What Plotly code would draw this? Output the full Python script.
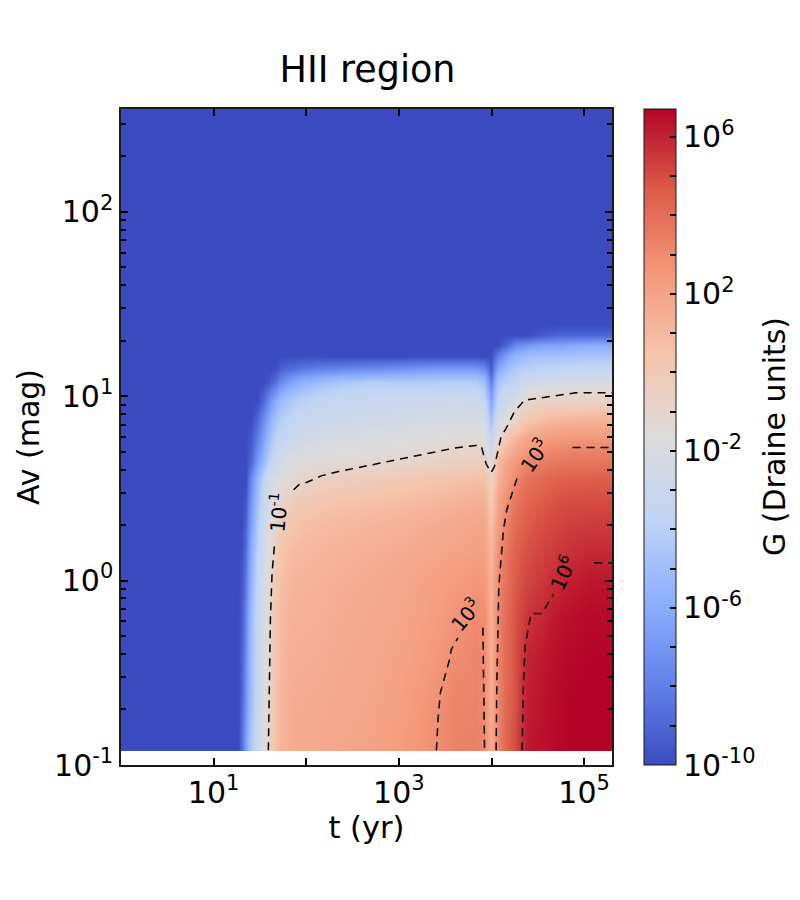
import numpy as np
import plotly.graph_objects as go

# log10 of the cell edges
log_t_edges = [0, 1.247, 1.290, 1.333, 1.376, 1.441, 1.505, 1.570, 1.634, 1.720, 1.935, 2.366, 3.011,
               3.441, 3.763, 3.892, 3.957, 4.032, 4.118, 4.215, 4.323, 4.462, 4.624, 4.839, 5.301]
log_av_edges = [-0.925, -0.751, -0.535, -0.319, -0.103, 0.086, 0.249, 0.384, 0.492, 0.600, 0.708, 0.816,
                0.924, 1.032, 1.114, 1.184, 1.249, 1.303, 1.357, 1.411, 2.557]

# log10 G per cell, lowest Av first
log_g = [
    [-10, -10, -8.5, -6.5, -4.5, -3.0, -2.0, -0.8, 0.7, 1.5, 1.7, 2.0, 2.6, 3.3, 3.4, 3.0, 1.6, 3.2, 4.4, 5.1, 6.2, 6.4, 6.6, 6.8],
    [-10, -10, -8.8, -7.0, -5.0, -3.2, -2.1, -0.9, 0.6, 1.5, 1.6, 1.9, 2.5, 3.2, 3.3, 3.0, 1.5, 3.2, 4.3, 5.0, 6.1, 6.3, 6.6, 6.8],
    [-10, -10, -9.0, -7.2, -5.0, -3.3, -2.2, -1.0, 0.5, 1.4, 1.5, 1.8, 2.3, 2.95, 3.2, 3.0, 1.4, 3.3, 4.2, 5.0, 6.0, 6.2, 6.5, 6.7],
    [-10, -10, -9.2, -7.5, -5.2, -3.4, -2.3, -1.1, 0.4, 1.3, 1.4, 1.7, 2.1, 2.7, 3.0, 2.9, 1.3, 3.2, 4.2, 4.9, 5.6, 5.9, 6.3, 6.6],
    [-10, -10, -9.5, -8.0, -5.6, -3.6, -2.4, -1.2, 0.2, 1.1, 1.3, 1.6, 2.0, 2.4, 2.6, 2.5, 1.2, 3.1, 4.0, 4.7, 5.2, 5.5, 5.9, 6.3],
    [-10, -10, -9.8, -8.5, -6.0, -4.0, -2.7, -1.6, -0.3, 0.8, 1.1, 1.4, 1.7, 2.0, 2.2, 2.1, 0.9, 2.8, 3.7, 4.5, 4.9, 5.2, 5.5, 5.8],
    [-10, -10, -10, -9.0, -6.5, -4.5, -3.0, -2.0, -1.0, 0.3, 0.8, 1.1, 1.4, 1.7, 1.9, 1.8, 0.5, 2.3, 3.3, 4.1, 4.6, 4.9, 5.2, 5.4],
    [-10, -10, -10, -9.5, -7.0, -5.0, -3.3, -2.3, -1.5, -0.5, 0.3, 0.6, 0.9, 1.2, 1.4, 1.3, -0.1, 1.9, 2.9, 3.7, 4.3, 4.6, 4.9, 5.0],
    [-10, -10, -10, -10, -7.5, -5.5, -3.7, -2.6, -1.9, -1.2, -0.6, -0.1, 0.3, 0.6, 0.8, 0.7, -0.8, 1.2, 2.3, 3.1, 3.9, 4.2, 4.5, 4.6],
    [-10, -10, -10, -10, -9.0, -7.0, -5.5, -4.0, -3.0, -2.0, -1.5, -1.3, -0.9, -0.6, -0.4, -0.5, -2.0, 0.9, 1.8, 2.5, 3.0, 3.4, 3.6, 3.7],
    [-10, -10, -10, -10, -9.5, -8.0, -6.5, -5.0, -3.8, -2.9, -2.2, -1.9, -1.6, -1.4, -1.2, -1.6, -3.5, -1.2, 0.3, 1.3, 2.0, 2.4, 2.6, 2.7],
    [-10, -10, -10, -10, -10, -9.0, -7.5, -6.0, -4.6, -3.6, -2.9, -2.6, -2.3, -2.2, -2.1, -2.5, -5.0, -2.3, -1.6, -0.6, 0.3, 0.8, 1.1, 1.3],
    [-10, -10, -10, -10, -10, -10, -9.0, -7.5, -6.0, -4.6, -3.5, -3.1, -2.9, -2.8, -2.9, -3.5, -6.5, -3.6, -2.9, -2.1, -1.0, -0.8, -0.8, -0.6],
    [-10, -10, -10, -10, -10, -10, -10, -9.5, -8.5, -6.5, -5.0, -4.1, -4.2, -4.0, -4.2, -5.0, -8.0, -4.5, -4.0, -3.4, -2.6, -2.4, -2.2, -2.1],
    [-10, -10, -10, -10, -10, -10, -10, -10, -9.8, -8.8, -8.0, -7.5, -7.0, -6.8, -7.0, -7.5, -9.5, -6.2, -5.0, -4.4, -4.0, -3.8, -3.7, -3.5],
    [-10, -10, -10, -10, -10, -10, -10, -10, -10, -10, -10, -10, -10, -10, -10, -10, -10, -8.0, -6.5, -5.5, -5.0, -4.8, -4.8, -4.6],
    [-10, -10, -10, -10, -10, -10, -10, -10, -10, -10, -10, -10, -10, -10, -10, -10, -10, -10, -9.0, -7.5, -7.0, -6.5, -6.5, -6.0],
    [-10, -10, -10, -10, -10, -10, -10, -10, -10, -10, -10, -10, -10, -10, -10, -10, -10, -10, -10, -10, -10, -9.5, -9.0, -9.0],
    [-10, -10, -10, -10, -10, -10, -10, -10, -10, -10, -10, -10, -10, -10, -10, -10, -10, -10, -10, -10, -10, -10, -10, -10],
    [-10, -10, -10, -10, -10, -10, -10, -10, -10, -10, -10, -10, -10, -10, -10, -10, -10, -10, -10, -10, -10, -10, -10, -10],
]

# dashed contours, broken where the labels sit
contour_log_t = [
    [1.591, 1.599, 1.613, 1.631, 1.659],
    [1.864, 1.918, 2.007, 2.168, 2.348, 2.527, 2.706, 2.885, 3.047, 3.226, 3.405, 3.584, 3.835, 3.889, 3.943,
     3.996, 4.032, 4.057, 4.104, 4.158, 4.247, 4.355, 4.659, 4.910, 5.301],
    [3.405, 3.423, 3.448, 3.495, 3.548, 3.566, 3.638],
    [3.907, 3.914, 3.925],
    [4.050, 4.057, 4.079, 4.104, 4.129, 4.165, 4.212, 4.276],
    [4.875, 5.301],
    [4.330, 4.344, 4.362, 4.391, 4.427, 4.545, 4.606, 4.667],
    [5.108, 5.301],
]
contour_log_av = [
    [-0.92, -0.571, -0.211, 0.041, 0.204],
    [0.492, 0.519, 0.533, 0.569, 0.591, 0.609, 0.627, 0.645, 0.663, 0.677, 0.696, 0.717, 0.733, 0.730, 0.632,
     0.585, 0.618, 0.681, 0.780, 0.825, 0.915, 0.978, 1.000, 1.018, 1.018],
    [-0.92, -0.751, -0.607, -0.517, -0.427, -0.373, -0.310],
    [-0.256, -0.571, -0.92],
    [-0.92, -0.571, -0.031, 0.150, 0.276, 0.384, 0.456, 0.555],
    [0.721, 0.721],
    [-0.92, -0.571, -0.355, -0.274, -0.178, -0.178, -0.130, -0.076],
    [0.096, 0.096],
]

contour_labels = ["10<sup>-1</sup>", "10<sup>3</sup>", "10<sup>3</sup>", "10<sup>6</sup>"]
label_log_t = [1.688, 3.71, 4.462, 4.763]
label_log_av = [0.368, -0.184, 0.681, 0.043]
label_angle = [-85, -50, -55, -65]

coolwarm = [
    [0.0, "#3b4cc0"], [0.125, "#6282ea"], [0.25, "#8db0fe"], [0.375, "#c0d4f5"], [0.5, "#dddcdc"],
    [0.625, "#f5c4ac"], [0.75, "#f4987a"], [0.875, "#dc5d4a"], [1.0, "#b40426"],
]

font_name = "DejaVu Sans"
line_color = "#1a1a1a"

t_ticks = [10, 1000, 100000]
t_minor = [100, 10000]
t_labels = ["10<sup>1</sup>", "10<sup>3</sup>", "10<sup>5</sup>"]
av_ticks = [0.1, 1, 10, 100]
av_labels = ["10<sup>-1</sup>", "10<sup>0</sup>", "10<sup>1</sup>", "10<sup>2</sup>"]
bar_ticks = list(range(-10, 7))
bar_labels = ["10<sup>%d</sup>" % v if v in (-10, -6, -2, 2, 6) else "" for v in bar_ticks]

fig = go.Figure()
fig.add_trace(
    go.Heatmap(
        x=10.0 ** np.array(log_t_edges), y=10.0 ** np.array(log_av_edges), z=log_g,
        zmin=-10, zmax=6.71, zsmooth="best", colorscale=coolwarm, hoverinfo="skip",
        colorbar=dict(
            xref="container", x=636 / 792, xanchor="left", xpad=0, y=0, yanchor="bottom", ypad=0,
            len=1, thickness=32, outlinecolor=line_color, outlinewidth=1,
            tickmode="array", tickvals=bar_ticks, ticktext=bar_labels,
            ticks="inside", ticklen=6, tickwidth=2, tickcolor="black",
            tickfont=dict(size=30, color="black", family=font_name),
        ),
    )
)
for log_t, log_av in zip(contour_log_t, contour_log_av):
    fig.add_trace(
        go.Scatter(
            x=10.0 ** np.array(log_t), y=10.0 ** np.array(log_av), mode="lines",
            line=dict(color="black", width=1.5, dash="8px,6px"), showlegend=False, hoverinfo="skip",
        )
    )
for text, lt, la, angle in zip(contour_labels, label_log_t, label_log_av, label_angle):
    fig.add_annotation(
        x=lt, y=la, text=text, textangle=angle, showarrow=False, xanchor="center", yanchor="middle",
        font=dict(size=20, color="black", family=font_name),
    )
# colorbar title sits further out than plotly puts it, so it is placed by hand
fig.add_annotation(
    xref="paper", yref="paper", x=1.33, y=0.5, text="G (Draine units)", textangle=-90, showarrow=False,
    xanchor="center", yanchor="middle",
    font=dict(size=30, color="black", family=font_name),
)

axis_style = dict(
    type="log", showgrid=False, zeroline=False, showline=True, linecolor=line_color, linewidth=1.5,
    mirror="allticks", ticks="inside", ticklen=7, tickwidth=2, tickcolor="black",
    tickfont=dict(size=30, color="black", family=font_name),
)
fig.update_xaxes(
    axis_style, range=[0, 5.301],
    tickmode="array", tickvals=t_ticks + t_minor, ticktext=t_labels + ["", ""],
    title=dict(text="t (yr)", font=dict(size=30.5, color="black", family=font_name), standoff=4),
)
fig.update_yaxes(
    axis_style, range=[-1, 2.557],
    tickmode="array", tickvals=av_ticks, ticktext=av_labels,
    minor=dict(ticks="inside", ticklen=5, tickwidth=2, tickcolor="black", dtick="D1", showgrid=False),
    title=dict(text="Av (mag)", font=dict(size=30, color="black", family=font_name), standoff=6),
)
# page body adds 8 px, so the figure is drawn 8 px smaller than the window
fig.update_layout(
    width=792, height=892, margin=dict(l=113, r=188, t=101, b=135), paper_bgcolor="white", plot_bgcolor="white",
    font=dict(family=font_name, color="black"),
    title=dict(text="HII region", x=359.5 / 792, xanchor="center", y=1 - 61 / 892, yanchor="middle",
               font=dict(size=36.5, color="black", family=font_name)),
)

fig.write_html("out.html")
